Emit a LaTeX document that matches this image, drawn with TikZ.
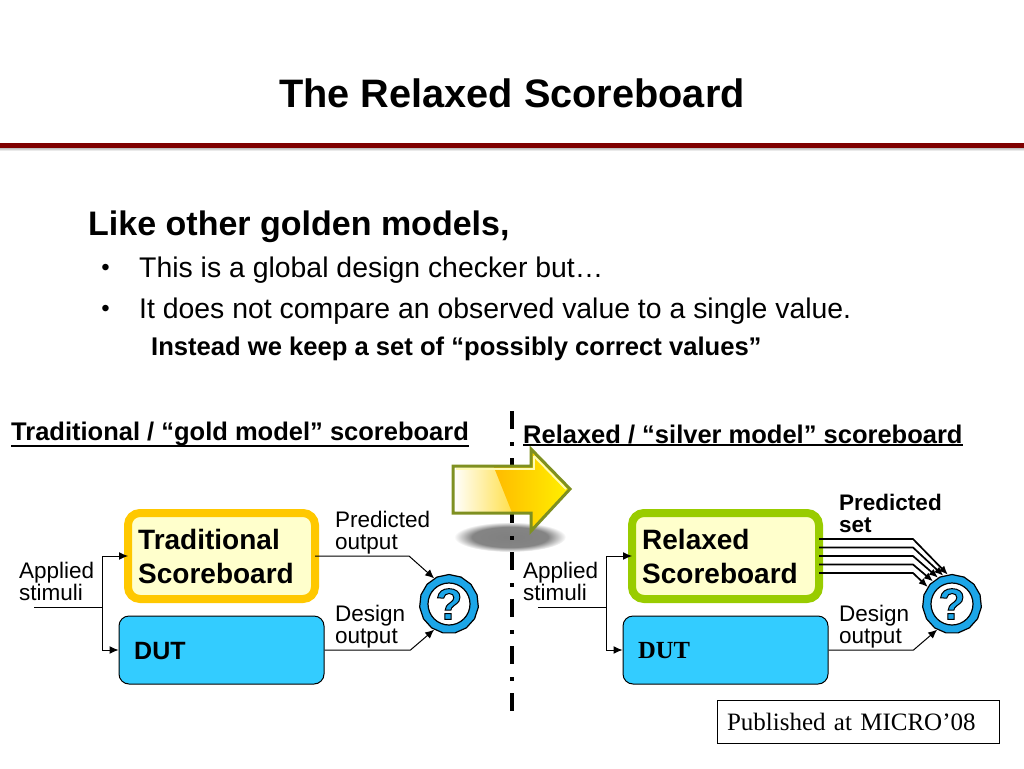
\documentclass[tikz,border=0pt]{standalone}
\usepackage{fontspec}
\setmainfont{Liberation Sans}
\newfontfamily\timesfont{Liberation Serif}
\usetikzlibrary{positioning,arrows.meta,shapes.geometric}
\definecolor{barred}{HTML}{7F0000}
\definecolor{goldedge}{HTML}{FFC800}
\definecolor{greenedge}{HTML}{99CC00}
\definecolor{paleyellow}{HTML}{FFFFCC}
\definecolor{dutblue}{HTML}{33CCFF}
\definecolor{ringblue}{HTML}{1CA6E8}
\definecolor{arrowolive}{HTML}{7F9020}
\pgfdeclareradialshading{softgray}{\pgfpoint{0bp}{0bp}}{color(0bp)=(black!50); color(17bp)=(black!48); color(25bp)=(white); color(50bp)=(white)}
\tikzset{
	fontpx/.style={font=\fontsize{#1}{#1}\selectfont},
	plaintext/.style={anchor=north west,inner sep=0pt,align=left,font=\fontsize{22.5}{22}\selectfont},
	boldtext/.style={anchor=west,inner sep=0pt,align=left,font=\fontsize{28}{34}\selectfont\bfseries},
	scorebox/.style={rectangle,rounded corners=12,line width=8,fill=paleyellow,minimum width=187,minimum height=86},
	dutbox/.style={rectangle,rounded corners=10,draw=black,line width=1,fill=dutblue,minimum width=205,minimum height=68},
	badge/.style={regular polygon,regular polygon sides=15,draw=black,line width=1.2,fill=ringblue,minimum size=59,inner sep=0},
	badgehole/.style={circle,draw=black,line width=1.2,fill=white,minimum size=42,inner sep=0},
	wire/.style={line width=1,draw=black},
	tipwire/.style={wire,-{Latex[length=9pt,width=8pt]}},
	fatwire/.style={line width=1.7,draw=black,-{Latex[length=9pt,width=7.5pt]}}
}
\newcommand{\qbadge}[2]{
	\node [badge] (#1) at (#2) {};
	\node [badgehole] (#1hole) at (#1) {};
	\node [inner sep=0pt] (#1mark) at (#1) {\fontsize{44}{44}\selectfont\bfseries\special{pdf:code q 2 Tr 1 w 0 0 0 RG 0.11 0.65 0.91 rg}?\special{pdf:code Q}};
}
\newcommand{\stimwires}[3]{
	\coordinate (#1in) at (#2,607);
	\coordinate (#1fork) at (#2+68,607);
	\draw [wire] (#1in) -- (#1fork);
	\draw [tipwire] (#1fork) |- ([xshift=4]#3.west);
	\draw [tipwire] (#1fork) |- (#1dut.west);
}
\begin{document}
\begin{tikzpicture}[x=1pt,y=-1pt]
	\useasboundingbox (0,0) rectangle (1024,768);

	% Heading
	\node [inner sep=0pt,fontpx=39.7] (title) at (512,93) {\bfseries The Relaxed Scoreboard};
	\fill [barred] (0,143) rectangle (1024,148);
	\shade [top color=black!25,bottom color=white] (0,148) rectangle (1024,151);

	% Bullets
	\node [anchor=west,inner sep=0pt,fontpx=34] (intro) at (88,227) {\bfseries Like other golden models,};
	\node [anchor=west,inner sep=0pt,fontpx=28.4] (bulletone) at (139,270) {This is a global design checker but…};
	\node [anchor=west,inner sep=0pt,fontpx=28.4] (bullettwo) at (139,311) {It does not compare an observed value to a single value.};
	\node [left=29pt of bulletone.west,inner sep=0pt,fontpx=24] (dotone) {•};
	\node [left=29pt of bullettwo.west,inner sep=0pt,fontpx=24] (dottwo) {•};
	\node [anchor=west,inner sep=0pt,fontpx=25.6] (instead) at (151,349) {\bfseries Instead we keep a set of “possibly correct values”};

	% Divider, with the big arrow over it
	\shade [shading=softgray] (510,537) ellipse (56 and 15);
	\draw [line width=4,dash pattern=on 18pt off 13pt on 4pt off 12pt] (512,411) -- (512,711);
	\begin{scope}
		\clip (453,466) -- (531,466) -- (531,449) -- (570,489) -- (531,531) -- (531,513) -- (453,513) -- cycle;
		\shade [left color=white,right color=yellow!65!orange!80!white] (453,440) rectangle (520,540);
		\shade [left color=orange!60!yellow,right color=yellow!90!orange] (483,440) -- (572,440) -- (572,540) -- (523,540) -- cycle;
	\end{scope}
	\draw [draw=yellow!30,line width=2] (456,469) -- (534,469) -- (534,456);
	\draw [draw=yellow!30,line width=2] (534,456) -- (566,489);
	\draw [draw=arrowolive,line width=3,line join=miter] (453,466) -- (531,466) -- (531,449) -- (570,489) -- (531,531) -- (531,513) -- (453,513) -- cycle;

	% Left side
	\node [anchor=west,inner sep=0pt,fontpx=25.5] (goldhead) at (11,434) {\bfseries Traditional / “gold model” scoreboard};
	\draw [line width=2] (goldhead.south west) -- (goldhead.south east);
	\node [scorebox,draw=goldedge] (tradbox) at (221.5,556) {};
	\node [boldtext] (tradtext) at (138,556.5) {Traditional\\Scoreboard};
	\node [dutbox] (golddut) at (221.5,650) {};
	\node [anchor=west,inner sep=0pt,fontpx=25] (golddutname) at (134,651.5) {\bfseries DUT};
	\node [plaintext] (goldstim) at (19,562) {Applied\\stimuli};
	\node [plaintext] (goldpred) at (335,511) {Predicted\\output};
	\node [plaintext] (golddes) at (335,604.5) {Design\\output};
	\qbadge{goldq}{449,604}
	\stimwires{gold}{34}{tradbox}
	\draw [tipwire] ([xshift=-4]tradbox.east) -- ++(94,0) -- (goldq.120);
	\draw [tipwire] (golddut.east) -- ++(86,0) -- (goldq.240);

	% Right side
	\node [anchor=west,inner sep=0pt,fontpx=25.5] (silverhead) at (523,435) {\bfseries Relaxed / “silver model” scoreboard};
	\draw [line width=2] (silverhead.south west) -- (silverhead.south east);
	\node [scorebox,draw=greenedge] (relbox) at (725.5,556) {};
	\node [boldtext] (reltext) at (642,556.5) {Relaxed\\Scoreboard};
	\node [dutbox] (silverdut) at (725.5,650) {};
	\node [anchor=west,inner sep=0pt,fontpx=24.6] (silverdutname) at (638,651) {\timesfont\bfseries DUT};
	\node [plaintext] (silverstim) at (523,562) {Applied\\stimuli};
	\node [plaintext,font=\fontsize{22.5}{22}\selectfont\bfseries] (silverpred) at (839,494) {Predicted\\set};
	\node [plaintext] (silverdes) at (839,604.5) {Design\\output};
	\qbadge{silverq}{952,604}
	\stimwires{silver}{538}{relbox}
	\draw [fatwire] ([shift={(-4,-17)}]relbox.east) -- ++(94,0) -- (silverq.98);
	\draw [fatwire] ([shift={(-4,-8.5)}]relbox.east) -- ++(94,0) -- (silverq.107);
	\draw [fatwire] ([xshift=-4]relbox.east) -- ++(94,0) -- (silverq.118);
	\draw [fatwire] ([shift={(-4,8.5)}]relbox.east) -- ++(94,0) -- (silverq.130);
	\draw [fatwire] ([shift={(-4,17)}]relbox.east) -- ++(94,0) -- (silverq.145);
	\draw [tipwire] (silverdut.east) -- ++(85,0) -- (silverq.240);

	% Citation
	\node [draw=black,line width=1,inner xsep=10pt,inner ysep=0pt,text width=262pt,minimum height=43,align=left,font=\fontsize{25}{25}\selectfont\timesfont] (published) at (858,721.5) {Published at MICRO’08};
\end{tikzpicture}
\end{document}
